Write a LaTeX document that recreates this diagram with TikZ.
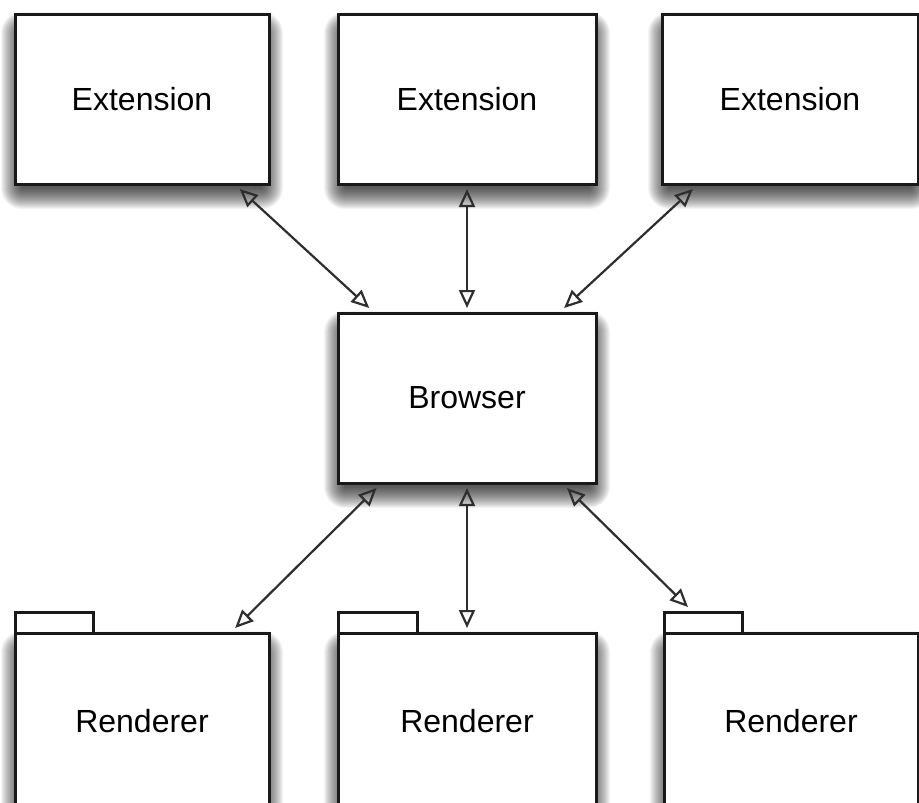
\documentclass[tikz,border=0pt]{standalone}
\usepackage{fontspec}
\setmainfont{Liberation Sans}
\usetikzlibrary{arrows.meta,calc}
\pgfdeclarelayer{paper}
\pgfdeclarelayer{shadowlayer}
\pgfsetlayers{paper,shadowlayer,main}
% soft drop shadow under a node (outer sep of the boxes is 5pt):
% a core shifted down and inset, grown step by step with faint fills
\newcommand{\softshadow}[1]{%
  \foreach \k in {0,...,21} {%
    \fill[black, opacity=0.045, rounded corners=\k pt]
      ($(#1.north west)+(12-\k,24-\k)$) rectangle ($(#1.south east)+(-12+\k,-1+\k)$);
  }%
}
\begin{document}
\begin{tikzpicture}[x=1pt,y=-1pt,
  box/.style={draw=black!90, line width=3pt, fill=white, outer sep=5pt,
    inner sep=0pt, font=\fontsize{32}{37}\selectfont},
  tabbox/.style={draw=black!90, line width=3pt, fill=white, outer sep=5pt,
    inner sep=0pt, minimum height=21pt},
  >={Triangle[open,length=18pt,width=16pt]},
  conn/.style={<->, draw=black!82, line width=2.2pt}
]
  % page frame
  \useasboundingbox (0,0) rectangle (919,803);
  \begin{pgfonlayer}{paper}
    \fill[white] (0,0) rectangle (919,803);
  \end{pgfonlayer}

  % extensions
  \node[box, minimum width=254pt, minimum height=170pt] (ext1) at (142,99) {Extension};
  \node[box, minimum width=258pt, minimum height=170pt] (ext2) at (467,99) {Extension};
  \node[box, minimum width=256pt, minimum height=170pt] (ext3) at (790,99) {Extension};

  % browser
  \node[box, minimum width=258pt, minimum height=170pt] (browser) at (467,398) {Browser};

  % renderers: folder tab first, body on top of it
  \node[tabbox, minimum width=78pt] (r1tab) at (54,622.5) {};
  \node[box, minimum width=254pt, minimum height=176pt] (r1) at (142,721) {Renderer};
  \node[tabbox, minimum width=79pt] (r2tab) at (377.5,622.5) {};
  \node[box, minimum width=258pt, minimum height=176pt] (r2) at (467,721) {Renderer};
  \node[tabbox, minimum width=78pt] (r3tab) at (703,622.5) {};
  \node[box, minimum width=254pt, minimum height=176pt] (r3) at (791,721) {Renderer};

  % shadows beneath all boxes
  \begin{pgfonlayer}{shadowlayer}
    \foreach \n in {ext1,ext2,ext3,browser,r1,r2,r3} {
      \softshadow{\n}
    }
  \end{pgfonlayer}

  % connectors
  \draw[conn] (ext1) -- (browser);
  \draw[conn] (ext2) -- (browser);
  \draw[conn] (ext3) -- (browser);
  \draw[conn] (browser) -- (r1);
  \draw[conn] (browser) -- (r2);
  \draw[conn] ($(browser.south east)+(-34,0)$) -- ($(r3tab.north west)+(29,0)$);
\end{tikzpicture}
\end{document}
